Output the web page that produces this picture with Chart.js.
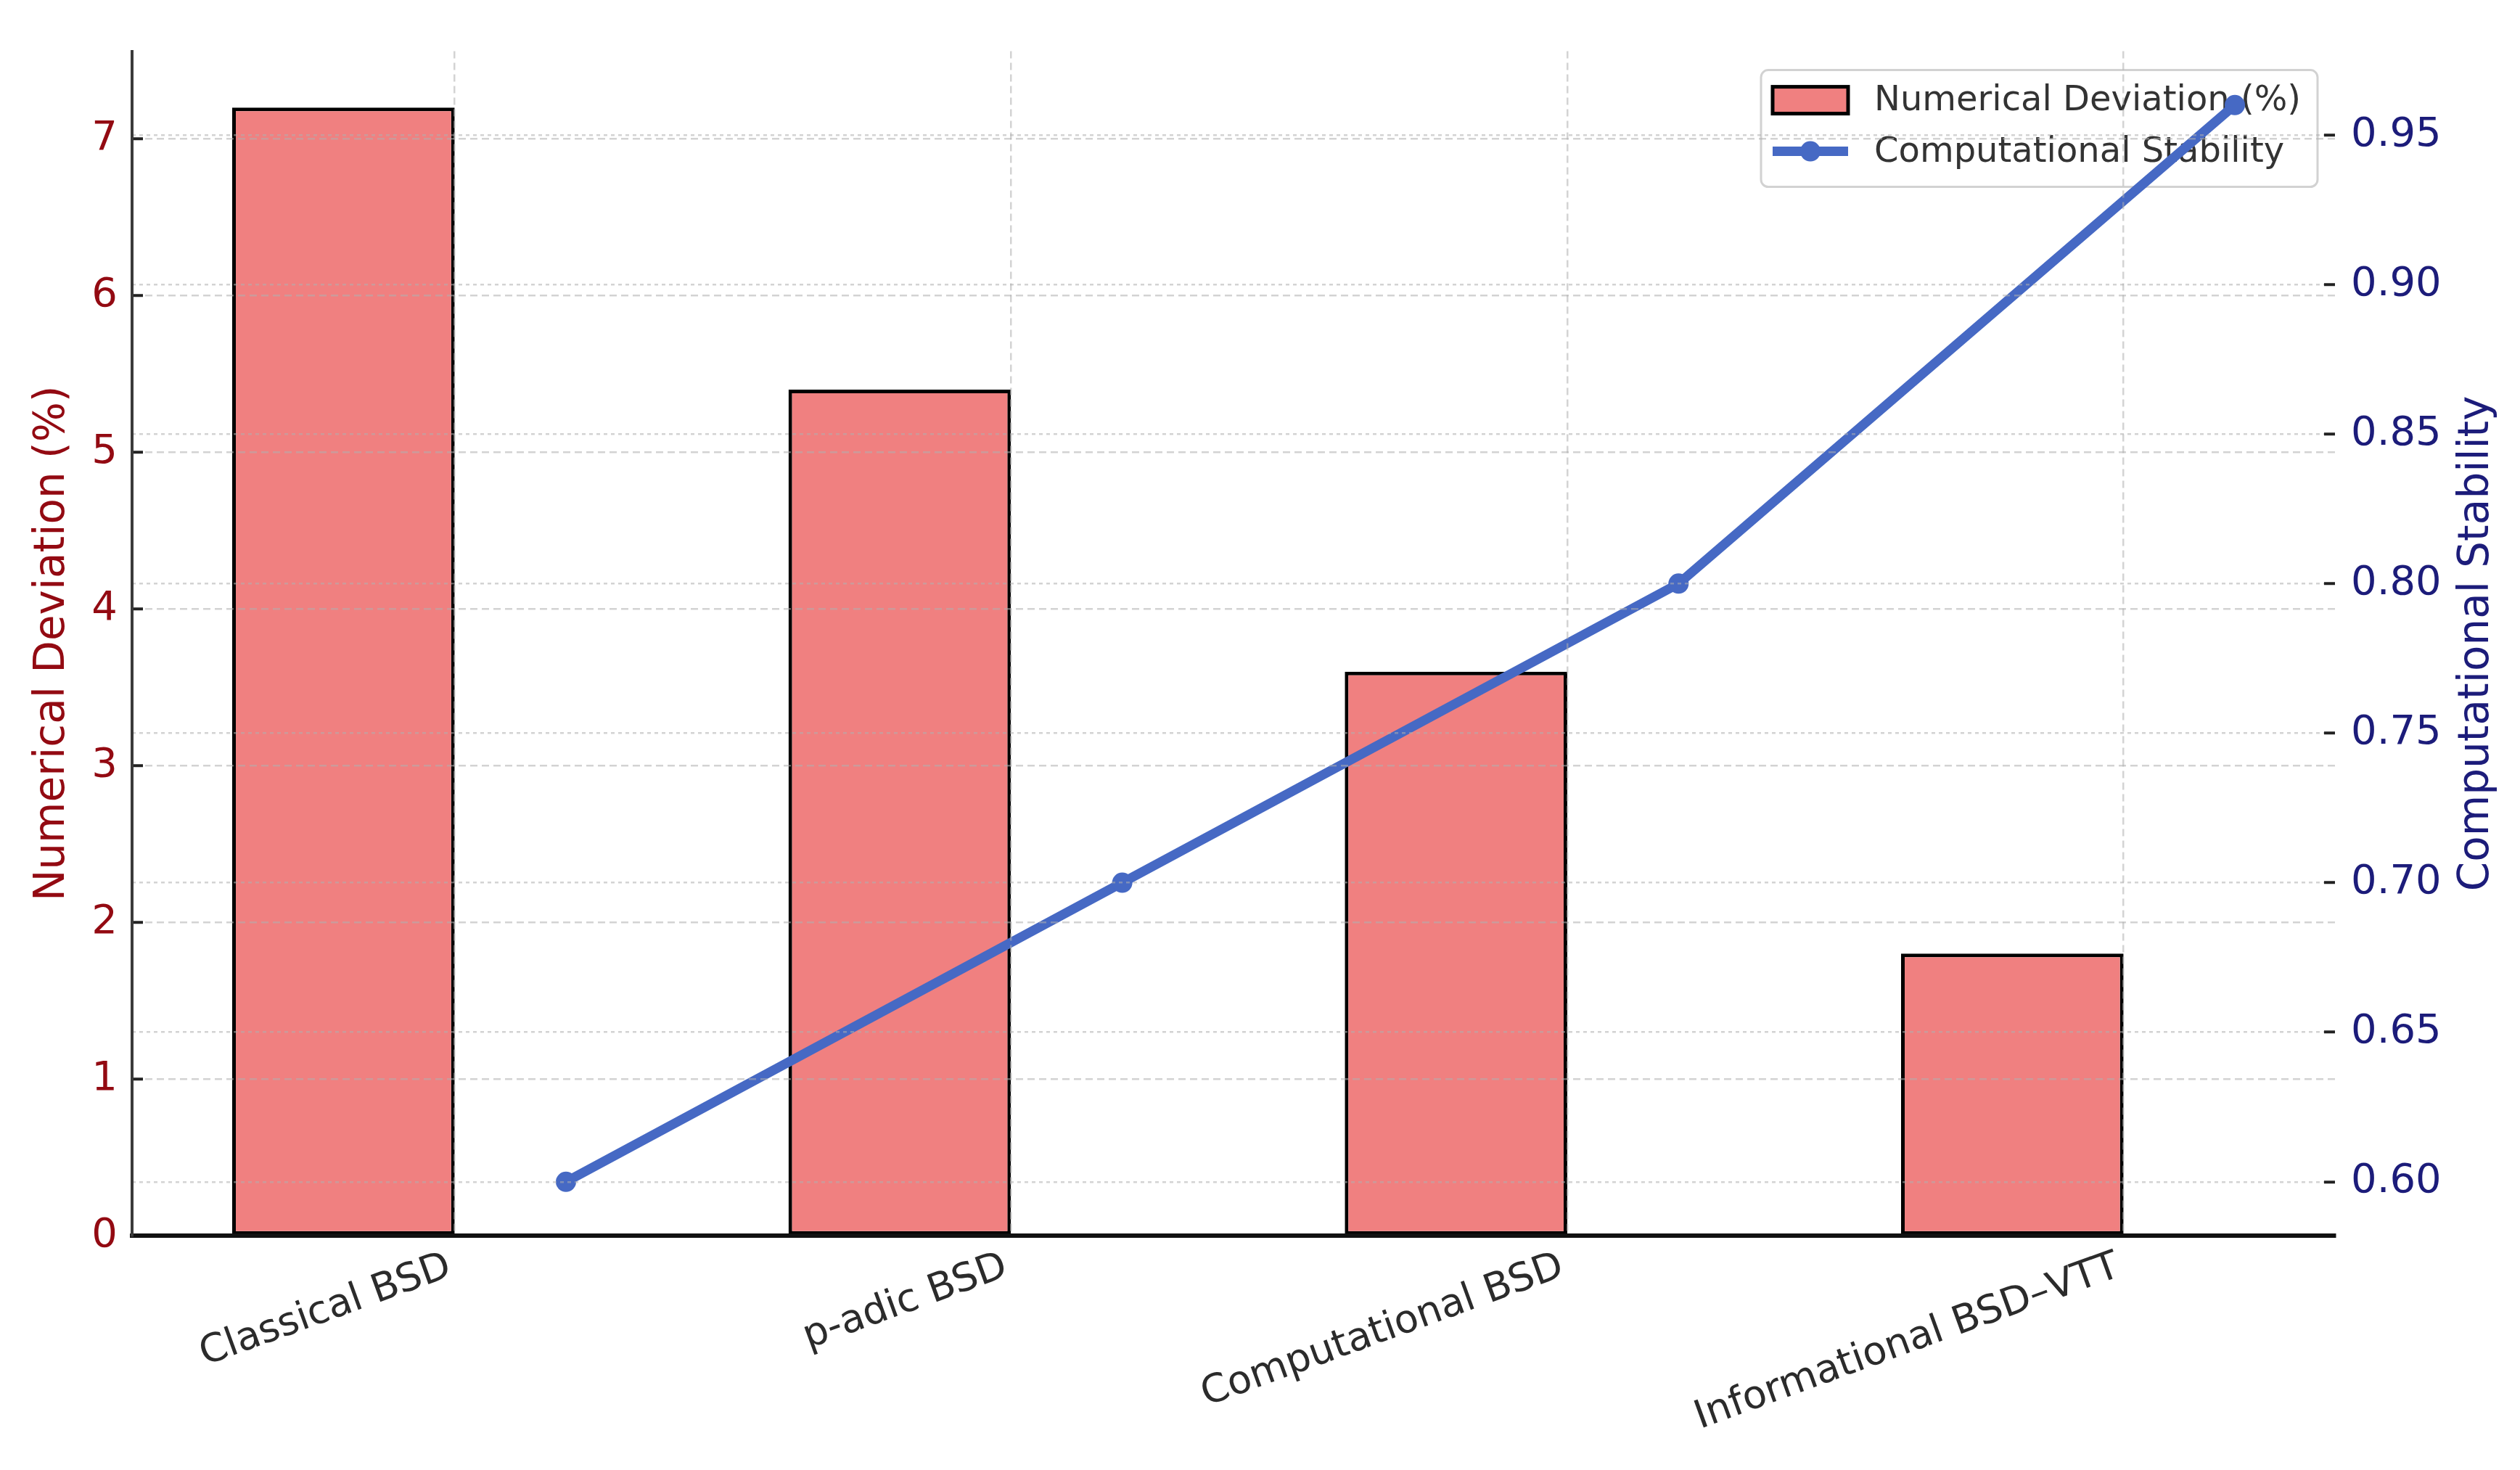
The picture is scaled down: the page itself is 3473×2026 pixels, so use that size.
<!DOCTYPE html>
<html>
<head>
<meta charset="utf-8">
<title>Numerical Deviation and Computational Stability</title>
<script src="https://cdn.jsdelivr.net/npm/chart.js@4.4.1/dist/chart.umd.min.js"></script>
<style>
    html, body { margin: 0; padding: 0; background: #ffffff; }
    #chart { display: block; }
</style>
</head>
<body>
<canvas id="chart" width="3473" height="2026"></canvas>
<script>
// --- DATA ---
const categories = ['Classical BSD', 'p-adic BSD', 'Computational BSD', 'Informational BSD–VTT'];
const deviationValues = [7.2, 5.4, 3.6, 1.8];
const stabilityValues = [0.60, 0.70, 0.80, 0.96];
const deviationTicks = [0, 1, 2, 3, 4, 5, 6, 7];
const stabilityTicks = [0.60, 0.65, 0.70, 0.75, 0.80, 0.85, 0.90, 0.95];

// --- STYLE ---
const BAR_WIDTH = 0.4;
const BAR_COLOR = '#f08080';
const LINE_COLOR = '#4669c4';
const DEV_TEXT = '#930a12';
const STAB_TEXT = '#1c1c7a';
const GRID_COLOR = 'rgba(175, 175, 175, 0.55)';

Chart.defaults.font.family = '"DejaVu Sans", sans-serif';

// axis ranges with a 5% margin, like the original plot
function padRange(lo, hi, stickyLow) {
    const m = (hi - lo) * 0.05;
    return { min: stickyLow ? lo : lo - m, max: hi + m };
}
const xRange = padRange(-BAR_WIDTH, categories.length - 1 + BAR_WIDTH / 2, false);
const devRange = padRange(0, Math.max(...deviationValues), true);
const stabRange = padRange(Math.min(...stabilityValues), Math.max(...stabilityValues), false);

const barPoints = deviationValues.map((v, i) => ({ x: i - BAR_WIDTH / 2, y: v }));
const linePoints = stabilityValues.map((v, i) => ({ x: i + BAR_WIDTH / 2, y: v }));

// Right axis title reads bottom-to-top, so draw it here
const rightTitle = {
    id: 'rightTitle',
    afterDraw(chart) {
        const { ctx, chartArea } = chart;
        ctx.save();
        ctx.translate(3414, (chartArea.top + chartArea.bottom) / 2);
        ctx.rotate(-Math.PI / 2);
        ctx.font = '58px "DejaVu Sans"';
        ctx.fillStyle = STAB_TEXT;
        ctx.textAlign = 'center';
        ctx.textBaseline = 'middle';
        ctx.fillText('Computational Stability', 0, 0);
        ctx.restore();
    }
};

// Legend box, drawn after the bars so the line passes over it
const boxLegend = {
    id: 'boxLegend',
    afterDatasetDraw(chart, args) {
        if (args.index !== 0) return;
        const { ctx, chartArea } = chart;
        const ds = chart.data.datasets;
        const w = 767, h = 161;
        const left = chartArea.right - 24 - w;
        const top = chartArea.top + 26;
        const hx = left + 16, hw = 104;
        const row1 = top + 41, row2 = top + 112;

        ctx.save();
        ctx.beginPath();
        ctx.roundRect(left, top, w, h, 10);
        ctx.fillStyle = 'rgba(255, 255, 255, 0.8)';
        ctx.fill();
        ctx.strokeStyle = '#d2d2d2';
        ctx.lineWidth = 3;
        ctx.stroke();

        ctx.fillStyle = ds[0].backgroundColor;
        ctx.fillRect(hx, row1 - 18, hw, 37);
        ctx.strokeStyle = ds[0].borderColor;
        ctx.lineWidth = 5;
        ctx.strokeRect(hx, row1 - 18, hw, 37);

        ctx.strokeStyle = ds[1].borderColor;
        ctx.lineWidth = ds[1].borderWidth;
        ctx.beginPath();
        ctx.moveTo(hx, row2);
        ctx.lineTo(hx + hw, row2);
        ctx.stroke();
        ctx.fillStyle = ds[1].borderColor;
        ctx.beginPath();
        ctx.arc(hx + hw / 2, row2, ds[1].pointRadius, 0, Math.PI * 2);
        ctx.fill();

        ctx.font = '48px "DejaVu Sans"';
        ctx.fillStyle = '#333333';
        ctx.textAlign = 'left';
        ctx.textBaseline = 'middle';
        ctx.fillText(ds[0].label, left + 156, row1 + 2);
        ctx.fillText(ds[1].label, left + 156, row2 + 2);
        ctx.restore();
    }
};

const ctx = document.getElementById('chart').getContext('2d');
new Chart(ctx, {
    type: 'bar',
    data: {
        datasets: [{
            type: 'bar',
            label: 'Numerical Deviation (%)',
            data: barPoints,
            yAxisID: 'y',
            backgroundColor: BAR_COLOR,
            borderColor: '#000000',
            borderWidth: 5,
            borderSkipped: false,
            categoryPercentage: 1,
            barPercentage: BAR_WIDTH,
            order: 1
        }, {
            type: 'line',
            label: 'Computational Stability',
            data: linePoints,
            yAxisID: 'y1',
            borderColor: LINE_COLOR,
            backgroundColor: LINE_COLOR,
            borderWidth: 13,
            pointRadius: 14,
            pointBackgroundColor: LINE_COLOR,
            pointBorderWidth: 0,
            tension: 0,
            order: 0
        }]
    },
    options: {
        responsive: false,
        devicePixelRatio: 1,
        animation: false,
        events: [],
        layout: { padding: { top: 62, left: 0, right: 0, bottom: 0 } },
        plugins: { legend: { display: false }, tooltip: { enabled: false } },
        scales: {
            x: {
                type: 'linear',
                min: xRange.min,
                max: xRange.max,
                offset: false,
                afterFit: s => { s.height = 323; },
                afterBuildTicks: s => { s.ticks = categories.map((c, i) => ({ value: i })); },
                grid: { offset: false, color: GRID_COLOR, lineWidth: 2.5, drawTicks: false, z: 1 },
                border: { display: true, color: '#111111', width: 6, dash: [10, 6], z: 3 },
                ticks: {
                    autoSkip: false,
                    minRotation: 20,
                    maxRotation: 20,
                    padding: 11,
                    labelOffset: -7,
                    color: '#2b2b2b',
                    font: { size: 54 },
                    callback: v => categories[v]
                }
            },
            y: {
                position: 'left',
                min: devRange.min,
                max: devRange.max,
                afterFit: s => { s.width = 182; },
                afterBuildTicks: s => { s.ticks = deviationTicks.map(v => ({ value: v })); },
                grid: { color: GRID_COLOR, lineWidth: 2.5, tickLength: -15, tickColor: '#222222', tickWidth: 4, z: 1 },
                border: { display: true, color: '#3a3a3a', width: 4, dash: [10, 6], z: 3 },
                ticks: { padding: 35, color: DEV_TEXT, font: { size: 56 } },
                title: {
                    display: true,
                    text: 'Numerical Deviation (%)',
                    color: DEV_TEXT,
                    font: { size: 58 },
                    padding: { top: 38, bottom: 0 }
                }
            },
            y1: {
                position: 'right',
                min: stabRange.min,
                max: stabRange.max,
                afterFit: s => { s.width = 255; },
                afterBuildTicks: s => { s.ticks = stabilityTicks.map(v => ({ value: v })); },
                grid: { color: GRID_COLOR, lineWidth: 2.5, tickLength: -15, tickColor: '#222222', tickWidth: 4, z: 1 },
                border: { display: false, dash: [5, 5] },
                ticks: { padding: 37, color: STAB_TEXT, font: { size: 56 }, callback: v => v.toFixed(2) }
            }
        }
    },
    plugins: [boxLegend, rightTitle]
});
</script>
</body>
</html>
